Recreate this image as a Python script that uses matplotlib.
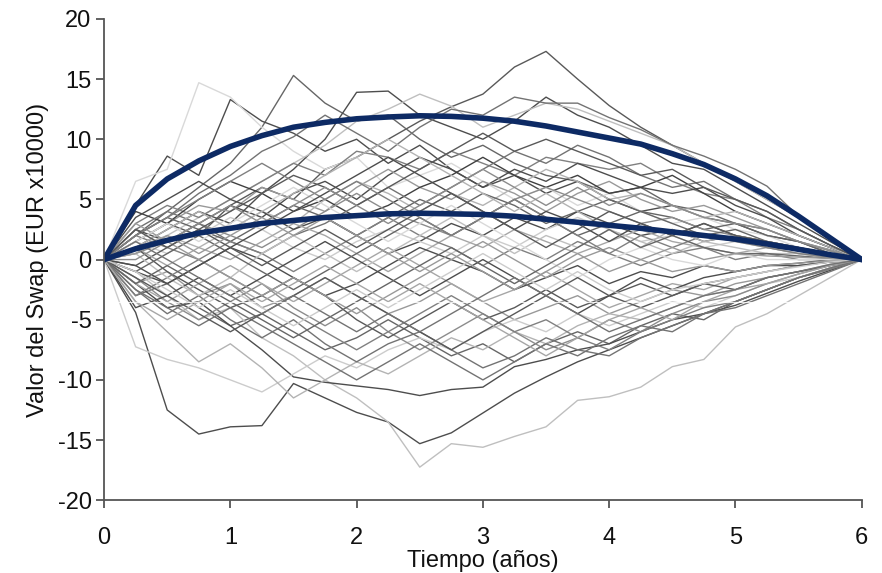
import matplotlib
matplotlib.use("Agg")
import matplotlib.pyplot as plt

plt.rcParams['font.family'] = ['Liberation Sans', 'DejaVu Sans']
plt.rcParams['axes.unicode_minus'] = False

# tiempo en años, pasos trimestrales
tiempo = [i * 0.25 for i in range(25)]

# trayectorias simuladas del valor del swap (EUR x10000)
trayectorias = [
    [0, 1.5, 3.0, 2.0, 4.5, 6.0, 5.0, 7.5, 8.5, 10.0, 11.5, 12.7, 13.75, 16.0, 17.3, 15.0, 12.8, 11.0, 9.5, 8.0, 6.5, 5.0, 3.5, 1.8, 0],
    [0, 2.0, 4.0, 6.0, 8.0, 11.0, 15.3, 13.0, 11.5, 12.0, 10.0, 8.5, 9.5, 8.0, 7.0, 6.5, 5.5, 6.0, 4.5, 4.0, 3.0, 2.5, 1.5, 0.8, 0],
    [0, 4.5, 8.6, 7.0, 13.3, 11.5, 10.5, 9.0, 10.0, 8.0, 9.5, 7.5, 6.0, 7.0, 5.5, 6.5, 5.0, 4.0, 4.5, 3.5, 3.0, 2.0, 1.5, 0.5, 0],
    [0, 6.5, 7.5, 14.7, 13.5, 11.0, 9.0, 7.5, 8.5, 6.0, 7.0, 8.0, 6.5, 5.0, 6.0, 4.5, 5.5, 4.0, 3.0, 3.5, 2.5, 2.0, 1.0, 0.5, 0],
    [0, 1.0, 2.5, 4.0, 3.0, 5.5, 7.5, 10.0, 13.9, 14.0, 12.0, 11.0, 10.0, 11.5, 13.5, 12.0, 11.0, 9.5, 8.0, 7.5, 6.0, 4.5, 3.0, 1.5, 0],
    [0, 0.5, 2.0, 3.5, 5.0, 6.5, 8.0, 9.5, 11.5, 12.5, 13.75, 12.75, 11.0, 12.0, 13.0, 12.5, 11.5, 10.5, 9.5, 8.0, 6.5, 5.0, 3.5, 1.8, 0],
    [0, 2.0, 3.5, 5.5, 7.0, 9.0, 10.2, 12.0, 10.5, 9.0, 11.0, 12.5, 12.0, 13.5, 13.0, 13.0, 11.8, 10.8, 9.5, 8.6, 7.5, 6.1, 3.6, 1.7, 0],
    [0, 3.0, 4.5, 3.5, 5.0, 6.5, 8.0, 7.0, 9.0, 8.5, 7.5, 9.0, 8.0, 7.0, 8.5, 8.0, 7.5, 8.0, 6.5, 5.5, 5.0, 3.5, 2.5, 1.2, 0],
    [0, 2.5, 1.5, 3.0, 4.5, 3.5, 5.5, 6.5, 5.0, 7.0, 8.5, 7.5, 6.0, 7.5, 6.5, 8.0, 7.0, 6.0, 5.5, 6.0, 4.5, 3.5, 2.0, 1.0, 0],
    [0, 1.5, 3.0, 4.5, 4.0, 6.0, 5.0, 4.0, 6.0, 7.5, 6.0, 5.0, 6.5, 5.5, 4.0, 5.5, 6.5, 5.0, 4.0, 4.5, 3.5, 2.5, 1.5, 0.8, 0],
    [0, 4.0, 3.0, 5.0, 6.5, 5.5, 4.0, 5.0, 3.5, 4.5, 6.0, 7.0, 8.5, 7.0, 6.0, 7.0, 5.5, 6.0, 7.0, 5.5, 4.0, 3.0, 2.0, 1.0, 0],
    [0, 1.0, 2.0, 1.0, 2.5, 4.0, 3.0, 5.0, 6.5, 5.5, 4.0, 5.5, 4.5, 6.0, 7.5, 6.5, 5.0, 5.5, 4.5, 3.5, 4.0, 3.0, 2.0, 1.0, 0],
    [0, 2.0, 3.5, 2.5, 1.5, 3.0, 4.5, 3.5, 2.0, 3.5, 5.0, 4.0, 5.5, 4.5, 3.0, 4.0, 5.0, 4.0, 3.5, 2.5, 3.0, 2.0, 1.5, 0.5, 0],
    [0, 0.5, 1.5, 3.0, 2.0, 1.0, 2.5, 4.0, 5.5, 4.0, 3.0, 2.0, 3.5, 5.0, 6.0, 5.0, 4.0, 3.0, 3.5, 2.5, 2.0, 1.5, 1.0, 0.5, 0],
    [0, 3.5, 5.0, 6.5, 5.0, 4.0, 2.5, 3.5, 2.0, 0.5, 1.5, 3.0, 2.0, 3.5, 2.5, 4.0, 3.0, 2.0, 2.5, 1.5, 2.0, 1.0, 0.8, 0.3, 0],
    [0, 1.5, 0.5, 2.0, 3.5, 2.5, 1.0, 0.0, 1.5, 2.5, 1.5, 0.5, 2.0, 1.0, 2.5, 3.5, 2.5, 1.5, 2.0, 1.0, 1.5, 1.0, 0.5, 0.2, 0],
    [0, 2.5, 4.0, 3.0, 1.5, 0.5, 2.0, 3.0, 4.5, 6.0, 4.5, 6.0, 7.5, 9.0, 8.0, 9.5, 8.5, 7.0, 6.0, 6.5, 5.0, 4.0, 2.5, 1.2, 0],
    [0, -0.5, 1.0, 2.5, 4.0, 5.5, 7.0, 6.0, 4.5, 6.0, 7.5, 9.0, 10.5, 9.0, 10.0, 9.0, 8.0, 7.0, 7.5, 6.0, 5.0, 4.0, 2.5, 1.2, 0],
    [0, 1.0, -0.5, 1.0, 0.0, 1.5, 3.0, 2.0, 0.5, -1.0, 0.5, 2.0, 1.0, 2.5, 1.5, 0.5, 1.5, 2.5, 1.5, 1.0, 0.5, 1.0, 0.5, 0.2, 0],
    [0, 2.0, 1.0, 0.0, 1.5, 0.5, -1.0, 0.5, 2.0, 3.5, 2.0, 1.0, -0.5, 1.0, 0.0, 1.5, 0.5, -0.5, 0.5, 1.0, 0.0, 0.5, 0.0, 0.0, 0],
    [0, -1.0, -2.0, -0.5, 1.0, 0.0, -1.5, -3.0, -2.0, -0.5, 1.0, 0.0, -1.0, -2.5, -1.5, -0.5, -2.0, -1.0, -1.5, -0.5, -1.0, -0.5, -0.3, 0.0, 0],
    [0, -2.0, -1.0, -3.0, -2.0, -4.0, -3.0, -1.5, -3.0, -4.5, -3.5, -2.0, -3.5, -5.0, -4.0, -3.0, -4.5, -3.5, -2.5, -3.0, -2.0, -1.5, -1.0, -0.5, 0],
    [0, -3.0, -2.0, -4.0, -5.5, -4.5, -6.0, -7.5, -6.5, -5.0, -6.5, -8.0, -7.0, -8.5, -7.0, -6.0, -7.0, -5.5, -4.5, -5.0, -3.5, -2.5, -1.5, -0.8, 0],
    [0, -4.4, -12.5, -14.5, -13.9, -13.8, -10.3, -11.5, -12.7, -13.5, -15.3, -14.4, -12.75, -11.1, -9.75, -8.5, -7.5, -6.5, -5.5, -4.5, -3.8, -2.8, -1.8, -0.9, 0],
    [0, -1.0, -3.0, -5.0, -4.0, -6.5, -8.0, -10.0, -11.5, -13.5, -17.25, -15.3, -15.6, -14.7, -13.9, -11.7, -11.4, -10.6, -8.9, -8.3, -5.6, -4.5, -3.0, -1.5, 0],
    [0, -2.0, -4.0, -3.5, -5.5, -7.5, -9.75, -10.2, -10.5, -10.8, -11.3, -10.8, -10.6, -8.9, -8.3, -7.5, -7.0, -6.0, -5.0, -4.5, -3.5, -2.5, -1.5, -0.7, 0],
    [0, -7.25, -8.3, -9.0, -10.0, -11.0, -9.5, -8.0, -9.0, -7.5, -6.5, -7.5, -6.0, -5.0, -6.0, -4.5, -5.5, -4.5, -3.5, -4.0, -3.0, -2.0, -1.5, -0.7, 0],
    [0, -3.5, -6.0, -8.5, -7.0, -9.0, -11.5, -10.0, -8.5, -9.5, -8.0, -6.5, -7.5, -6.0, -7.0, -5.5, -4.5, -5.0, -4.0, -3.0, -2.5, -1.5, -1.0, -0.4, 0],
    [0, -2.5, -4.5, -3.0, -5.0, -6.5, -5.0, -7.0, -8.5, -7.0, -6.0, -7.5, -9.0, -8.0, -6.5, -7.5, -8.0, -6.5, -5.5, -4.5, -4.0, -3.0, -2.0, -1.0, 0],
    [0, -1.5, -3.5, -5.0, -3.5, -2.0, -4.0, -5.5, -4.0, -6.0, -7.5, -6.0, -4.5, -6.0, -7.5, -6.5, -5.0, -6.0, -4.5, -3.5, -3.0, -2.0, -1.2, -0.5, 0],
    [0, 1.0, -1.0, -2.5, -4.0, -3.0, -1.5, -3.0, -5.0, -6.5, -5.0, -3.5, -5.0, -4.0, -2.5, -4.0, -3.0, -2.0, -3.0, -2.0, -1.5, -1.0, -0.5, -0.2, 0],
    [0, -2.0, -3.5, -2.0, -0.5, -2.0, -3.5, -2.0, -0.5, 1.0, -0.5, -2.0, -3.5, -2.5, -1.0, -2.5, -4.0, -3.0, -2.0, -2.5, -1.5, -1.0, -0.5, -0.2, 0],
    [0, -3.0, -1.5, 0.0, -1.5, -3.0, -4.5, -6.0, -7.5, -6.0, -4.5, -3.0, -4.5, -6.0, -5.0, -6.5, -7.5, -6.0, -5.0, -4.0, -3.5, -2.5, -1.5, -0.8, 0],
    [0, -4.0, -3.0, -1.5, -3.0, -1.5, 0.0, 1.5, 0.0, -1.5, -3.0, -1.5, 0.0, -1.5, -3.0, -4.5, -3.0, -1.5, -2.5, -1.5, -1.0, -0.5, -0.5, -0.2, 0],
    [0, 0.5, -1.5, -3.0, -1.5, 0.5, 2.0, 0.5, -1.0, 0.5, 2.0, 3.5, 2.0, 0.5, 2.0, 1.0, 2.5, 1.5, 0.5, 1.5, 1.0, 0.5, 0.5, 0.2, 0],
    [0, -1.0, 0.5, 2.0, 0.5, -1.0, -2.5, -1.0, 0.5, 2.0, 3.5, 2.0, 3.5, 5.0, 3.5, 2.0, 3.0, 4.0, 3.0, 2.0, 2.5, 1.5, 1.0, 0.5, 0],
    [0, 3.0, 1.5, 0.0, -1.5, -3.0, -1.5, -3.0, -4.5, -3.0, -1.5, 0.0, 1.5, 0.0, -1.5, 0.0, 1.0, 0.0, -1.0, -0.5, -1.0, -0.5, -0.3, -0.1, 0],
    [0, -2.5, -4.0, -5.5, -4.0, -5.5, -7.0, -8.5, -10.0, -8.5, -7.0, -8.5, -10.0, -8.5, -7.0, -8.0, -6.5, -5.5, -6.0, -4.5, -3.5, -2.5, -1.5, -0.7, 0],
    [0, 1.5, 3.0, 1.5, 3.0, 4.5, 6.0, 4.5, 3.0, 1.5, 3.0, 4.5, 3.0, 1.5, 0.0, -1.5, 0.0, 1.0, 0.0, -0.5, 0.5, 0.0, 0.0, 0.0, 0],
    [0, -1.5, -3.0, -4.5, -6.0, -4.5, -3.0, -1.5, -3.0, -4.5, -6.0, -7.5, -6.0, -4.5, -3.0, -1.5, -3.0, -4.0, -3.0, -2.0, -2.5, -1.5, -1.0, -0.5, 0],
    [0, 2.0, 3.5, 5.0, 6.5, 8.0, 6.5, 5.0, 6.5, 5.0, 3.5, 2.0, 3.5, 5.0, 3.5, 2.0, 0.5, 2.0, 1.0, 2.0, 1.5, 1.0, 0.5, 0.2, 0],
    [0, -0.5, -2.0, -0.5, 1.0, 2.5, 4.0, 5.5, 7.0, 8.5, 7.0, 5.5, 4.0, 2.5, 4.0, 3.0, 1.5, 3.0, 2.0, 3.0, 2.0, 1.5, 1.0, 0.5, 0],
    [0, 1.0, 2.5, 4.0, 2.5, 4.0, 5.5, 7.0, 8.5, 10.0, 8.5, 7.0, 5.5, 4.0, 5.5, 4.0, 2.5, 1.0, 2.5, 1.5, 2.0, 1.5, 1.0, 0.5, 0],
    [0, -2.0, -0.5, -2.0, -3.5, -5.0, -6.5, -5.0, -3.5, -2.0, -0.5, 1.0, -0.5, -2.0, -0.5, 1.0, 2.5, 1.0, 2.0, 1.0, 0.5, 0.5, 0.3, 0.1, 0],
    [0, 0.0, 1.5, 3.0, 4.5, 3.0, 4.5, 6.0, 4.5, 3.0, 4.5, 6.0, 7.5, 6.0, 4.5, 6.0, 4.5, 5.5, 4.5, 3.5, 3.0, 2.5, 1.5, 0.7, 0],
    [0, -3.5, -5.0, -3.5, -2.0, -3.5, -2.0, -0.5, -2.0, -3.5, -2.0, -3.5, -5.0, -6.5, -8.0, -6.5, -5.0, -4.0, -5.0, -3.5, -2.5, -2.0, -1.2, -0.5, 0],
    [0, 2.5, 1.0, 2.5, 1.0, -0.5, 1.0, 2.5, 1.0, 2.5, 4.0, 5.5, 4.0, 2.5, 1.0, 2.5, 4.0, 3.0, 2.0, 3.0, 2.0, 1.5, 1.0, 0.4, 0],
    [0, -1.0, -2.5, -4.0, -2.5, -4.0, -5.5, -4.0, -2.5, -4.0, -2.5, -1.0, 0.5, -1.0, -2.5, -1.0, -2.5, -3.5, -2.5, -2.0, -1.5, -1.0, -0.6, -0.2, 0],
    [0, 1.5, 0.0, -1.5, -3.0, -4.5, -3.0, -4.5, -6.0, -4.5, -6.0, -4.5, -3.0, -1.5, -3.0, -4.5, -6.0, -5.0, -4.0, -3.0, -2.5, -1.5, -1.0, -0.4, 0],
    [0, 0.5, 2.0, 0.5, 2.0, 3.5, 2.0, 3.5, 2.0, 0.5, -1.0, 0.5, -1.0, -2.5, -1.0, 0.5, -1.0, 0.0, 1.0, 0.0, 0.5, 0.3, 0.2, 0.1, 0],
]

# curvas de exposicion (azul)
exposicion_alta = [0, 4.5, 6.7, 8.2, 9.4, 10.3, 11.0, 11.4, 11.7, 11.85, 11.95, 11.9, 11.75,
                   11.5, 11.1, 10.6, 10.1, 9.6, 8.8, 7.9, 6.7, 5.3, 3.6, 1.8, 0]
exposicion_media = [0, 0.9, 1.6, 2.2, 2.6, 3.0, 3.25, 3.5, 3.65, 3.8, 3.85, 3.8, 3.75,
                    3.6, 3.35, 3.1, 2.85, 2.6, 2.3, 2.0, 1.7, 1.3, 0.85, 0.4, 0]

# tono de gris de cada trayectoria
grises = [0.35, 0.4, 0.3, 0.85, 0.3, 0.75, 0.45, 0.5, 0.3, 0.6,
          0.25, 0.7, 0.4, 0.55, 0.3, 0.8, 0.45, 0.35, 0.65, 0.5,
          0.3, 0.6, 0.4, 0.3, 0.75, 0.3, 0.8, 0.7, 0.45, 0.55,
          0.35, 0.65, 0.5, 0.3, 0.75, 0.4, 0.6, 0.45, 0.85, 0.35,
          0.5, 0.3, 0.7, 0.4, 0.55, 0.65, 0.35, 0.8, 0.45, 0.6]

fig = plt.figure(figsize=(8.82, 5.73), dpi=100)
ax = fig.add_axes([0.118, 0.127, 0.859, 0.840])

for valores, g in zip(trayectorias, grises):
    ax.plot(tiempo, valores, color=str(g), lw=1.0)

# linea blanca tenue que cruza la imagen original
ax.axhline(-3.5, color="white", lw=0.8, alpha=0.8)

azul = "#0d2a64"
ax.plot(tiempo, exposicion_alta, color=azul, lw=4.0, solid_capstyle="round", solid_joinstyle="round")
ax.plot(tiempo, exposicion_media, color=azul, lw=4.0, solid_capstyle="round", solid_joinstyle="round")

ax.set_xlim(0, 6)
ax.set_ylim(-20, 20)
ax.set_xticks(range(0, 7))
ax.set_yticks(range(-20, 21, 5))

for lado in ["top", "right"]:
    ax.spines[lado].set_visible(False)
for lado in ["left", "bottom"]:
    ax.spines[lado].set_color("#555555")
    ax.spines[lado].set_linewidth(1.3)

ax.tick_params(axis="both", direction="out", length=6, width=1.3, color="#555555",
               labelsize=17, labelcolor="#111111")
ax.tick_params(axis="x", pad=13)
ax.tick_params(axis="y", pad=3)

ax.set_xlabel("Tiempo (años)", fontsize=17, color="#111111", labelpad=1)
ax.set_ylabel("Valor del Swap (EUR x10000)", fontsize=17, color="#111111", labelpad=6)

fig.savefig("out.png", dpi=100)
